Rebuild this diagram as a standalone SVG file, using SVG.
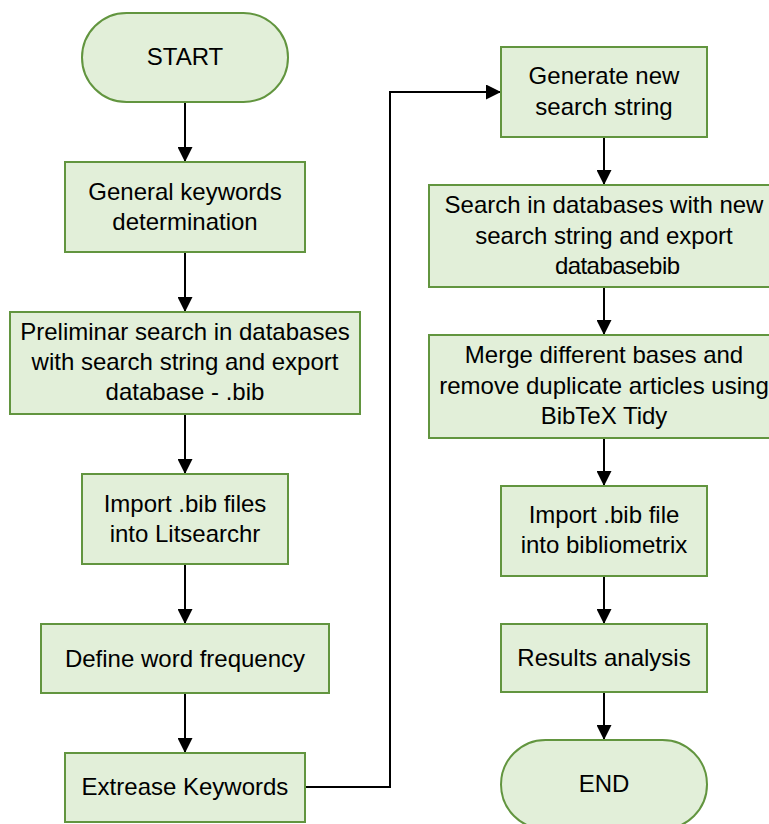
<svg xmlns="http://www.w3.org/2000/svg" width="769" height="824" viewBox="0 0 769 824">
<style>
.n{fill:#e2efd9;stroke:#62953f;stroke-width:2}
.t{font-family:"Liberation Sans",Arial,sans-serif;font-size:24px;fill:#000;text-anchor:middle}
.c{fill:none;stroke:#000;stroke-width:2}
</style>
<defs>
<marker id="a" markerWidth="15" markerHeight="15" refX="15" refY="7.5" orient="auto" markerUnits="userSpaceOnUse" viewBox="0 0 15 15">
<path d="M0,0 L15,7.5 L0,15 Z" fill="#000"/>
</marker>
</defs>
<rect width="769" height="824" fill="#fff"/>
<g id="connectors">
<path class="c" d="M185,102 V162" marker-end="url(#a)"/>
<path class="c" d="M185,252 V312" marker-end="url(#a)"/>
<path class="c" d="M185,414 V474" marker-end="url(#a)"/>
<path class="c" d="M185,564 V624" marker-end="url(#a)"/>
<path class="c" d="M185,693 V753" marker-end="url(#a)"/>
<path class="c" d="M305,787 H390 V92 H501" marker-end="url(#a)"/>
<path class="c" d="M604,137 V185" marker-end="url(#a)"/>
<path class="c" d="M604,287 V335" marker-end="url(#a)"/>
<path class="c" d="M604,438 V486" marker-end="url(#a)"/>
<path class="c" d="M604,576 V624" marker-end="url(#a)"/>
<path class="c" d="M604,692 V740" marker-end="url(#a)"/>
</g>
<g id="start">
<rect class="n" x="82" y="13" width="206" height="89" rx="44.5"/>
<text class="t" x="185" y="65">START</text>
</g>
<g id="general">
<rect class="n" x="65" y="162" width="240" height="90"/>
<text class="t" x="185" y="200">General keywords</text>
<text class="t" x="185" y="230">determination</text>
</g>
<g id="preliminar">
<rect class="n" x="10" y="312" width="350" height="102"/>
<text class="t" x="185" y="340">Preliminar search in databases</text>
<text class="t" x="185" y="370">with search string and export</text>
<text class="t" x="185" y="400">database - .bib</text>
</g>
<g id="import1">
<rect class="n" x="82" y="474" width="206" height="90"/>
<text class="t" x="185" y="512">Import .bib files</text>
<text class="t" x="185" y="542">into Litsearchr</text>
</g>
<g id="define">
<rect class="n" x="41" y="624" width="288" height="69"/>
<text class="t" x="185" y="667">Define word frequency</text>
</g>
<g id="extrease">
<rect class="n" x="65" y="753" width="240" height="69"/>
<text class="t" x="185" y="795">Extrease Keywords</text>
</g>
<g id="generate">
<rect class="n" x="501" y="47" width="206" height="90"/>
<text class="t" x="604" y="84">Generate new</text>
<text class="t" x="604" y="115">search string</text>
</g>
<g id="search">
<rect class="n" x="429" y="185" width="350" height="102"/>
<text class="t" x="604" y="213">Search in databases with new</text>
<text class="t" x="604" y="244">search string and export</text>
<text class="t" x="555" y="274" style="text-anchor:start" textLength="125" lengthAdjust="spacing">databasebib</text>
</g>
<g id="merge">
<rect class="n" x="429" y="335" width="350" height="103"/>
<text class="t" x="604" y="363">Merge different bases and</text>
<text class="t" x="604" y="394">remove duplicate articles using</text>
<text class="t" x="604" y="424">BibTeX Tidy</text>
</g>
<g id="import2">
<rect class="n" x="501" y="486" width="206" height="90"/>
<text class="t" x="604" y="523">Import .bib file</text>
<text class="t" x="604" y="553">into bibliometrix</text>
</g>
<g id="results">
<rect class="n" x="501" y="624" width="206" height="68"/>
<text class="t" x="604" y="666">Results analysis</text>
</g>
<g id="end">
<rect class="n" x="501" y="740" width="206" height="89" rx="44.5"/>
<text class="t" x="604" y="792">END</text>
</g>
</svg>
